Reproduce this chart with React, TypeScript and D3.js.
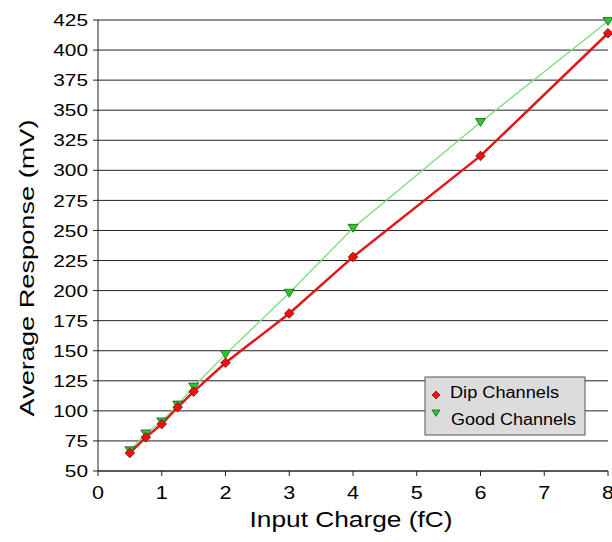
import React from "react";
import * as d3 from "d3";

const charges = [0.5, 0.75, 1, 1.25, 1.5, 2, 3, 4, 6, 8];
const dipValues = [65, 78, 89, 103, 116, 140, 181, 228, 312, 414];
const goodValues = [67, 81, 91, 105, 120, 147, 198, 252, 340, 424];
const xTicks = [0, 1, 2, 3, 4, 5, 6, 7, 8];
const yTicks = [50, 75, 100, 125, 150, 175, 200, 225, 250, 275, 300, 325, 350, 375, 400, 425];
const seriesNames = ["Dip Channels", "Good Channels"];

const W = 612, H = 542;
const m = { left: 98, right: 4, top: 20, bottom: 71 };
const font = "'Liberation Sans', Arial, sans-serif";

export default function App() {
  const x = d3.scaleLinear().domain([0, 8]).range([m.left, W - m.right]);
  const y = d3.scaleLinear().domain([50, 425]).range([H - m.bottom, m.top]);
  const line = d3.line<number>().x((_, i) => x(charges[i])).y((d) => y(d));
  const dipPts = charges.map((c, i) => [x(c), y(dipValues[i])]);
  const goodPts = charges.map((c, i) => [x(c), y(goodValues[i])]);
  const diamond = (cx: number, cy: number, r = 4.8) =>
    `M${cx},${cy - r}L${cx + r},${cy}L${cx},${cy + r}L${cx - r},${cy}Z`;
  const tri = (cx: number, cy: number, r = 5) =>
    `M${cx - r},${cy - r * 0.75}L${cx + r},${cy - r * 0.75}L${cx},${cy + r * 0.85}Z`;
  const x0 = x(0), yb = y(50);
  return (
    <svg width={W} height={H} style={{ position: "absolute", left: 0, top: 0, background: "#fff" }}>
      {yTicks.map((t) => (
        <g key={t}>
          <line x1={x0 - 5} x2={W - m.right} y1={y(t)} y2={y(t)} stroke="#222" strokeWidth={1} />
          <text x={x0 - 10} y={y(t)} dy="0.36em" textAnchor="end" fontFamily={font} fontSize={17}
            textLength={String(t).length * 11.6} lengthAdjust="spacingAndGlyphs" fill="#000">{t}</text>
        </g>
      ))}
      {xTicks.map((t) => (
        <g key={t}>
          <line x1={x(t)} x2={x(t)} y1={yb} y2={yb + 5} stroke="#222" />
          <text x={x(t)} y={yb + 28} textAnchor="middle" fontFamily={font} fontSize={18}
            textLength={12} lengthAdjust="spacingAndGlyphs" fill="#000">{t}</text>
        </g>
      ))}
      <line x1={x0} x2={x0} y1={m.top} y2={yb} stroke="#222" />
      <line x1={x0} x2={W - m.right} y1={yb} y2={yb} stroke="#222" />
      <path d={line(goodValues) || ""} fill="none" stroke="#7ddc7d" strokeWidth={1.3} />
      <path d={line(dipValues) || ""} fill="none" stroke="#e01818" strokeWidth={2.5} />
      {goodPts.map(([cx, cy], i) => (
        <path key={"g" + i} d={tri(cx, cy)} fill="#22cc22" stroke="#225522" strokeWidth={0.8} />
      ))}
      {dipPts.map(([cx, cy], i) => (
        <path key={"d" + i} d={diamond(cx, cy)} fill="#ee1111" stroke="#771111" strokeWidth={0.8} />
      ))}
      <text transform={`translate(34,268) rotate(-90)`} textAnchor="middle" fontFamily={font} fontSize={21}
        textLength={297} lengthAdjust="spacingAndGlyphs" fill="#000">Average Response (mV)</text>
      <text x={351} y={527} textAnchor="middle" fontFamily={font} fontSize={22}
        textLength={203} lengthAdjust="spacingAndGlyphs" fill="#000">Input Charge (fC)</text>
      <g>
        <rect x={425} y={377} width={160} height={58} fill="#dcdcdc" stroke="#555" strokeWidth={1} />
        <path d={diamond(436, 395, 4)} fill="#ee1111" stroke="#771111" strokeWidth={0.8} />
        <text x={450} y={398} fontFamily={font} fontSize={16} textLength={109} lengthAdjust="spacingAndGlyphs" fill="#000">{seriesNames[0]}</text>
        <path d={tri(436, 413, 4)} fill="#22cc22" stroke="#225522" strokeWidth={0.8} />
        <text x={451} y={425} fontFamily={font} fontSize={16} textLength={125} lengthAdjust="spacingAndGlyphs" fill="#000">{seriesNames[1]}</text>
      </g>
    </svg>
  );
}
